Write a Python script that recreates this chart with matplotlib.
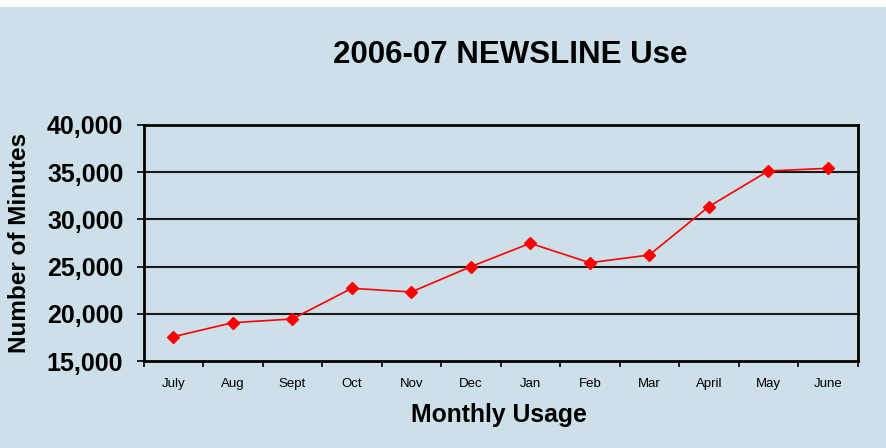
import matplotlib
matplotlib.use("Agg")
import matplotlib.pyplot as plt
from matplotlib.ticker import FuncFormatter, FixedLocator
from matplotlib.patches import Rectangle

months = ["July", "Aug", "Sept", "Oct", "Nov", "Dec", "Jan", "Feb", "Mar", "April", "May", "June"]
minutes = [17570, 19060, 19450, 22700, 22310, 24990, 27470, 25410, 26230, 31350, 35130, 35410]
yticks = [15000, 20000, 25000, 30000, 35000, 40000]

bg = "#cddfe8"
W, H = 886, 448
FAM = ["Liberation Sans", "DejaVu Sans"]
fig = plt.figure(figsize=(W / 100, H / 100), dpi=100, facecolor=bg)
fig.patches.append(Rectangle((0, 1 - 7 / H), 1, 7 / H, transform=fig.transFigure,
                             facecolor="white", edgecolor="none", zorder=5))

ax = fig.add_axes([143.5 / W, 1 - 361 / H, (857.5 - 143.5) / W, (361 - 125) / H])
ax.set_facecolor(bg)

x = list(range(len(months)))
ax.plot(x, minutes, color="#ff0000", lw=1.2, marker="D", markersize=6,
        markerfacecolor="#ff0000", markeredgecolor="#ff0000", zorder=3)

ax.set_xlim(-0.5, len(months) - 0.5)
ax.set_ylim(15000, 40000)
ax.set_yticks(yticks)
ax.yaxis.set_major_formatter(FuncFormatter(lambda v, p: f"{int(v):,}"))
for yv in yticks[1:-1]:
    ax.axhline(yv, color="#1a1a1a", lw=1.5, zorder=1)

ax.set_xticks(x)
ax.set_xticklabels(months, fontsize=9.5, family=FAM)
ax.xaxis.set_minor_locator(FixedLocator([i - 0.5 for i in range(len(months) + 1)]))
ax.tick_params(axis="x", which="major", length=0, pad=12)
ax.tick_params(axis="x", which="minor", length=4, width=1.2, direction="out", color="black")
ax.tick_params(axis="y", length=5, width=1.2, direction="out", pad=9.5)
for lab in ax.get_yticklabels():
    lab.set_fontsize(18)
    lab.set_fontweight("bold")
    lab.set_family(FAM)

for s in ax.spines.values():
    s.set_linewidth(2)
    s.set_color("black")

fig.text(20 / W, 1 - 243 / H, "Number of Minutes", rotation=90, ha="center", va="center",
         fontsize=17.5, fontweight="bold", family=FAM)
fig.text(499 / W, 1 - 415 / H, "Monthly Usage", ha="center", va="center",
         fontsize=17.8, fontweight="bold", family=FAM)
fig.text(510 / W, 1 - 55 / H, "2006-07 NEWSLINE Use", ha="center", va="center",
         fontsize=22.5, fontweight="bold", family=FAM)

fig.savefig("out.png", dpi=100, facecolor=bg)
